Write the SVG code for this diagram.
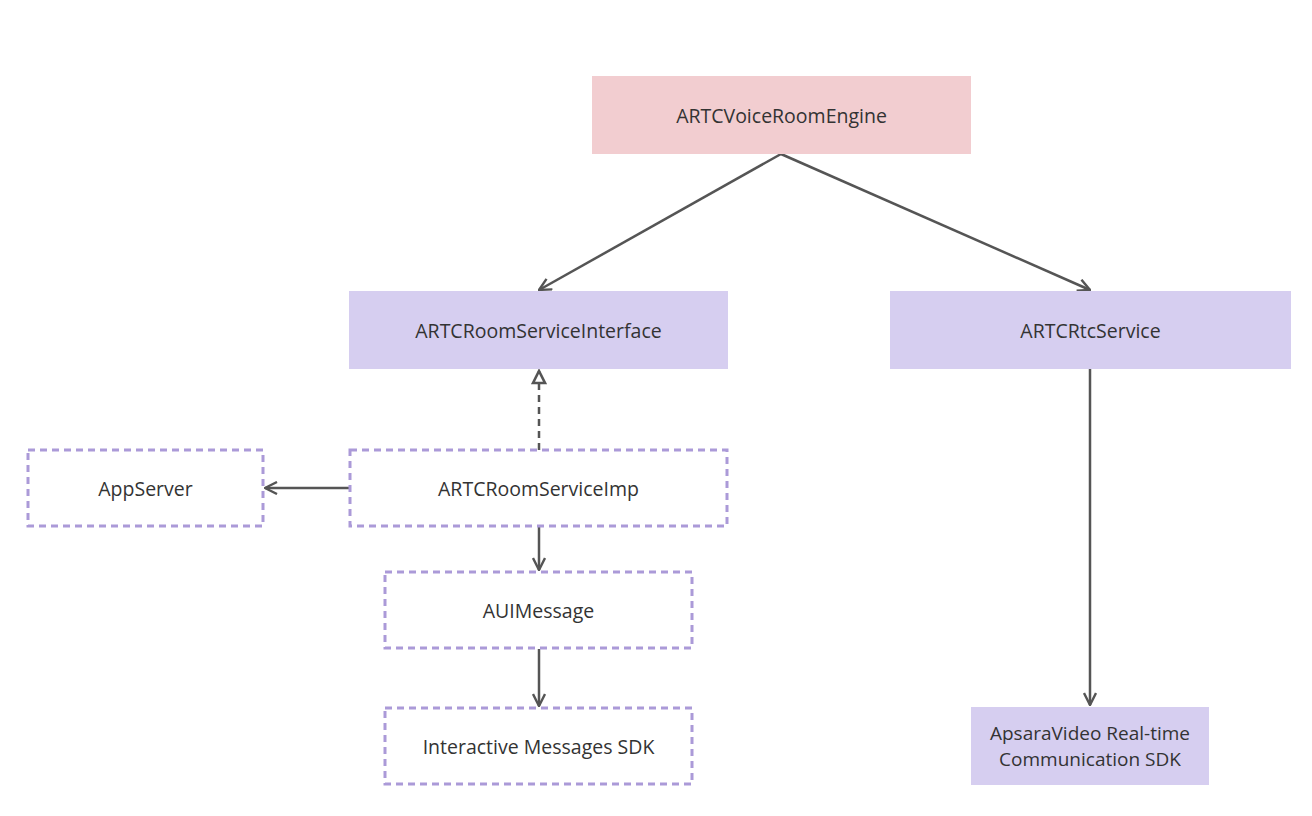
<svg xmlns="http://www.w3.org/2000/svg" width="1312" height="816" viewBox="0 0 1312 816">
<defs>
<marker id="chev" viewBox="0 0 14 14" refX="13" refY="7" markerWidth="14" markerHeight="14" markerUnits="userSpaceOnUse" orient="auto">
<path d="M1,1 L13,7 L1,13" fill="none" stroke="#555" stroke-width="2.4"/>
</marker>
<marker id="tri" viewBox="0 0 16 16" refX="14" refY="8" markerWidth="16" markerHeight="16" markerUnits="userSpaceOnUse" orient="auto">
<path d="M2,2 L14,8 L2,14 Z" fill="#fff" stroke="#555" stroke-width="2.6"/>
</marker>
</defs>
<style>
.t{font-family:"Open Sans","Noto Sans",sans-serif;font-size:19.5px;fill:#333;text-anchor:middle;dominant-baseline:central}
.t2{font-size:19px}
.pink{fill:#f2cdd0}
.purple{fill:#d6cef0}
.dash{fill:#fff;stroke:#ab9ad8;stroke-width:3;stroke-dasharray:7 5}
.c{fill:none;stroke:#555;stroke-width:2.5}
</style>
<rect width="1312" height="816" fill="#fff"/>
<g id="connectors">
<path class="c" d="M781,154 L539,290" marker-end="url(#chev)"/>
<path class="c" d="M781,154 L1090,290" marker-end="url(#chev)"/>
<path class="c" d="M539,450 L539,371" stroke-dasharray="7 5" marker-end="url(#tri)"/>
<path class="c" d="M350,488 L265,488" marker-end="url(#chev)"/>
<path class="c" d="M539,527 L539,570" marker-end="url(#chev)"/>
<path class="c" d="M539,649 L539,706" marker-end="url(#chev)"/>
<path class="c" d="M1090,369 L1090,705" marker-end="url(#chev)"/>
</g>
<g id="engine"><rect class="pink" x="592" y="76" width="379" height="78"/><text class="t" x="781.5" y="115">ARTCVoiceRoomEngine</text></g>
<g id="roomServiceInterface"><rect class="purple" x="349" y="291" width="379" height="78"/><text class="t" x="538.5" y="330">ARTCRoomServiceInterface</text></g>
<g id="rtcService"><rect class="purple" x="890" y="291" width="401" height="78"/><text class="t" x="1090.5" y="330">ARTCRtcService</text></g>
<g id="appServer"><rect class="dash" x="28" y="450" width="235" height="76"/><text class="t" x="145.5" y="488">AppServer</text></g>
<g id="roomServiceImp"><rect class="dash" x="350" y="450" width="377" height="76"/><text class="t" x="538.5" y="488">ARTCRoomServiceImp</text></g>
<g id="auiMessage"><rect class="dash" x="385" y="572" width="307" height="76"/><text class="t" x="538.5" y="610">AUIMessage</text></g>
<g id="imSdk"><rect class="dash" x="385" y="708" width="307" height="76"/><text class="t" x="538.5" y="746">Interactive Messages SDK</text></g>
<g id="rtcSdk"><rect class="purple" x="971" y="707" width="238" height="78"/><text class="t t2" x="1090" y="733">ApsaraVideo Real-time</text><text class="t t2" x="1090" y="759">Communication SDK</text></g>
</svg>
